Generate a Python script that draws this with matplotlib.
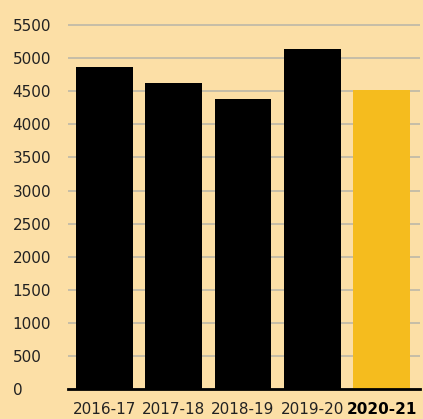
import matplotlib
matplotlib.use("Agg")
import matplotlib.pyplot as plt

seasons = ["2016-17", "2017-18", "2018-19", "2019-20", "2020-21"]
values = [4870, 4625, 4385, 5140, 4520]
bar_colors = ["#000000", "#000000", "#000000", "#000000", "#F5BC1E"]
yticks = list(range(0, 5501, 500))

bg = "#FCDFA6"
fig = plt.figure(figsize=(4.23, 4.19), dpi=100, facecolor=bg)
ax = fig.add_axes([0.161, 0.071, 0.832, 0.917], facecolor=bg)

ax.bar(range(len(seasons)), values, width=0.82, color=bar_colors, zorder=3)
ax.set_xlim(-0.52, 4.55)
ax.set_ylim(0, 5800)

ax.set_yticks(yticks)
ax.set_yticklabels([str(t) for t in yticks])
ax.yaxis.grid(True, color="#C6BEA8", linewidth=1.4, zorder=0)
# labels are left aligned, pad is in points (56 px at 100 dpi)
ax.tick_params(axis="y", length=0, pad=40, labelsize=11, labelcolor="#222222")
for lab in ax.get_yticklabels():
    lab.set_horizontalalignment("left")

ax.set_xticks(range(len(seasons)))
ax.set_xticklabels(seasons)
ax.tick_params(axis="x", length=0, pad=9, labelsize=11, labelcolor="#222222")
ax.get_xticklabels()[-1].set_fontweight("bold")
ax.get_xticklabels()[-1].set_color("#000000")

for s in ["top", "right", "left"]:
    ax.spines[s].set_visible(False)
ax.spines["bottom"].set_linewidth(2)
ax.spines["bottom"].set_zorder(4)

fig.savefig("out.png", dpi=100, facecolor=bg)
